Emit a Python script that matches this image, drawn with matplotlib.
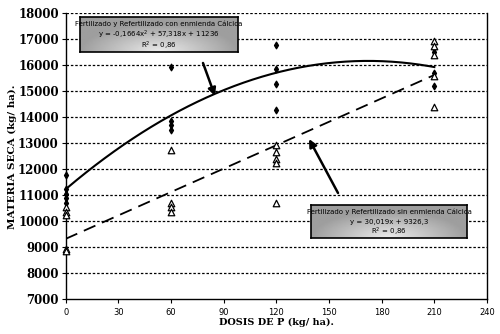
import numpy as np
import matplotlib
matplotlib.use("Agg")
import matplotlib.pyplot as plt

# Dry matter by P dose, with and without calcium amendment
dose_con = [0, 0, 0, 0, 0,
            60, 60, 60, 60,
            120, 120, 120, 120,
            210, 210, 210, 210]
ms_con = [11800, 11250, 11050, 10900, 10700,
          15950, 13850, 13700, 13500,
          16800, 15850, 15300, 14300,
          16650, 16500, 15700, 15200]

dose_sin = [0, 0, 0, 0, 0,
            60, 60, 60, 60,
            120, 120, 120, 120, 120,
            210, 210, 210, 210, 210]
ms_sin = [10550, 10350, 10250, 8950, 8850,
          12750, 10700, 10550, 10350,
          12950, 12650, 12400, 12250, 10700,
          16950, 16750, 16400, 15600, 14400]

# fitted trends
quad = (-0.1664, 57.318, 11236)
lin = (30.019, 9326.3)

x_ticks = [0, 30, 60, 90, 120, 150, 180, 210, 240]
y_ticks = [7000, 8000, 9000, 10000, 11000, 12000, 13000, 14000,
           15000, 16000, 17000, 18000]

fig = plt.figure(figsize=(5, 3.34), dpi=100)
ax = fig.add_axes([0.1314, 0.1039, 0.8426, 0.856])

for yv in y_ticks[1:]:
    ax.axhline(yv, color="black", lw=0.9, ls=(0, (2, 1.5)), zorder=1)

xs = np.linspace(0, 210, 200)
ax.plot(xs, quad[0] * xs**2 + quad[1] * xs + quad[2], color="black",
        lw=1.5, zorder=3)
ax.plot(xs, lin[0] * xs + lin[1], color="black", lw=1.3,
        ls=(0, (7, 4)), zorder=3)

ax.scatter(dose_con, ms_con, marker="d", s=11, color="black", zorder=4,
           clip_on=False)
ax.scatter(dose_sin, ms_sin, marker="^", s=22, facecolor="white",
           edgecolor="black", lw=0.9, zorder=5, clip_on=False)

ax.set_xlim(0, 240)
ax.set_ylim(7000, 18000)
ax.set_xticks(x_ticks)
ax.set_yticks(y_ticks)
ax.spines["top"].set_visible(False)
for s in ("left", "bottom", "right"):
    ax.spines[s].set_linewidth(1.0)
ax.tick_params(axis="x", labelsize=6, length=3, pad=3)
ax.tick_params(axis="y", length=3, pad=2)
for lab in ax.get_yticklabels():
    lab.set_family("DejaVu Serif")
    lab.set_fontweight("bold")
    lab.set_fontsize(8.5)

fig.text(0.025, 0.53, "MATERIA SECA (kg/ ha).", rotation=90, ha="center",
         va="center", family="DejaVu Serif", fontweight="bold", fontsize=7.5)
fig.text(0.553, 0.035, "DOSIS DE P (kg/ ha).", ha="center", va="center",
         family="DejaVu Serif", fontweight="bold", fontsize=7)

# arrows pointing to each trend
fig_px = lambda x, y: (x / 500, 1 - y / 334)
for tip, tail in [((215, 96), (203, 63)), ((309, 139), (338, 193))]:
    ax.annotate("", xy=fig_px(*tip), xytext=fig_px(*tail),
                xycoords="figure fraction", textcoords="figure fraction",
                arrowprops=dict(arrowstyle="-|>,head_length=0.5,head_width=0.25",
                                color="black", lw=1.8, mutation_scale=9,
                                shrinkA=0, shrinkB=0), zorder=6)


def text_box(x0, y0, x1, y1, lines):
    bx = fig.add_axes([x0 / 500, 1 - y1 / 334, (x1 - x0) / 500,
                       (y1 - y0) / 334])
    gx = np.linspace(-1, 1, 120)
    gy = np.linspace(0, 1, 40)
    X, Y = np.meshgrid(gx, gy)
    shade = 0.62 + 0.30 * np.clip(1 - np.sqrt((X / 1.0) ** 2 + (Y / 0.8) ** 2),
                                  0, 1)
    bx.imshow(shade, cmap="gray", vmin=0, vmax=1, aspect="auto",
              extent=(0, 1, 0, 1), origin="lower")
    bx.set_xticks([])
    bx.set_yticks([])
    for s in bx.spines.values():
        s.set_linewidth(1.2)
    n = len(lines)
    for i, t in enumerate(lines):
        bx.text(0.5, 1 - (i + 0.6) / n * 0.95, t, ha="center", va="center",
                fontsize=5, transform=bx.transAxes)


text_box(80, 17, 238, 52,
         ["Fertilizado y Refertilizado con enmienda Cálcica",
          "y = -0,1664x$^2$ + 57,318x + 11236",
          "R$^2$ = 0,86"])
text_box(311, 205, 467, 238,
         ["Fertilizado y Refertilizado sin enmienda Cálcica",
          "y = 30,019x + 9326,3",
          "R$^2$ = 0,86"])

fig.savefig("out.png", dpi=100)
